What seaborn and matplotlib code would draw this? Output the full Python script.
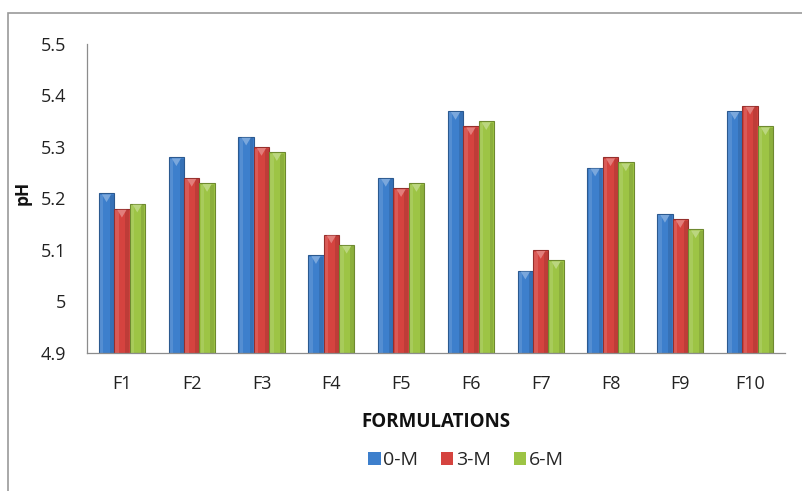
import numpy as np
import pandas as pd
import matplotlib
matplotlib.use("Agg")
import matplotlib.pyplot as plt
from matplotlib.patches import Rectangle, Polygon
from matplotlib.colors import to_rgb
import seaborn as sns

formulations = ["F1", "F2", "F3", "F4", "F5", "F6", "F7", "F8", "F9", "F10"]
ph_0m = [5.21, 5.28, 5.32, 5.09, 5.24, 5.37, 5.06, 5.26, 5.17, 5.37]
ph_3m = [5.18, 5.24, 5.30, 5.13, 5.22, 5.34, 5.10, 5.28, 5.16, 5.38]
ph_6m = [5.19, 5.23, 5.29, 5.11, 5.23, 5.35, 5.08, 5.27, 5.14, 5.34]
periods = ["0-M", "3-M", "6-M"]
y_ticks = [4.9, 5.0, 5.1, 5.2, 5.3, 5.4, 5.5]
y_tick_labels = ["4.9", "5", "5.1", "5.2", "5.3", "5.4", "5.5"]

colors = ["#3d7fcc", "#d5433f", "#9dc445"]

df = pd.DataFrame({
    "Formulation": formulations * 3,
    "Period": [p for p in periods for _ in formulations],
    "pH": ph_0m + ph_3m + ph_6m,
})

sns.set_theme(style="white")
plt.rcParams["font.family"] = ["Open Sans", "DejaVu Sans"]

W, H = 803, 491
fig = plt.figure(figsize=(W / 100, H / 100), dpi=100)
ax = fig.add_axes([87 / W, 1 - 353 / H, (785 - 87) / W, (353 - 44) / H])

ax.set_ylim(4.9, 5.5)
sns.barplot(data=df, x="Formulation", y="pH", hue="Period", palette=colors,
            width=0.66, gap=0, ax=ax, legend=True, edgecolor="none",
            saturation=1)

# bevelled look: darker edges, lighter left strip and a light notch at the top
ymin = 4.9
for container, c in zip(ax.containers, colors):
    rgb = np.array(to_rgb(c))
    dark = rgb * 0.7
    light = np.clip(rgb + (1 - rgb) * 0.35, 0, 1)
    for bar in container:
        x0 = bar.get_x()
        w = bar.get_width()
        top = bar.get_y() + bar.get_height()
        bar.set_y(ymin)
        bar.set_height(top - ymin)
        bar.set_edgecolor(dark)
        bar.set_linewidth(0.8)
        ax.add_patch(Rectangle((x0 + w * 0.08, ymin), w * 0.22, top - ymin - 0.003,
                               facecolor=light, edgecolor="none", alpha=0.35, zorder=bar.get_zorder() + 0.1))
        ax.add_patch(Rectangle((x0 + w * 0.72, ymin), w * 0.25, top - ymin - 0.003,
                               facecolor=dark, edgecolor="none", alpha=0.35, zorder=bar.get_zorder() + 0.1))
        ax.add_patch(Polygon([(x0 + w * 0.2, top - 0.002), (x0 + w * 0.8, top - 0.002),
                              (x0 + w * 0.5, top - 0.017)], closed=True,
                             facecolor=light, edgecolor="none", alpha=0.9,
                             zorder=bar.get_zorder() + 0.2))

ax.set_xlim(-0.5, len(formulations) - 0.5)
ax.set_yticks(y_ticks)
ax.set_yticklabels(y_tick_labels)
ax.set_xticks(range(len(formulations)))
ax.set_xticklabels(formulations)
ax.tick_params(axis="both", labelsize=13, colors="#222222", length=0)
ax.tick_params(axis="x", pad=16)
ax.tick_params(axis="y", pad=10)
ax.set_xticks(np.arange(-0.5, len(formulations), 1), minor=True)
ax.tick_params(axis="x", which="minor", length=6, width=0.8, color="#8c8c8c", direction="out")
ax.tick_params(axis="y", which="major", length=5, width=0.8, color="#8c8c8c", direction="out")
ax.tick_params(axis="y", labelcolor="#222222")

for side in ["top", "right"]:
    ax.spines[side].set_visible(False)
for side in ["left", "bottom"]:
    ax.spines[side].set_color("#8c8c8c")
    ax.spines[side].set_linewidth(0.9)

ax.set_xlabel("FORMULATIONS", fontsize=13.5, fontweight="bold", color="#111111")
ax.xaxis.set_label_coords(0.5, -(427 - 353) / (353 - 44))
ax.xaxis.label.set_va("baseline")
ax.set_ylabel("pH", fontsize=12.5, fontweight="bold", color="#111111")
ax.yaxis.set_label_coords(-55 / (785 - 87), (353 - 193) / (353 - 44))

handles, labels = ax.get_legend_handles_labels()
ax.legend(handles, labels, loc="center", bbox_to_anchor=(466 / W, 1 - 460 / H),
          bbox_transform=fig.transFigure, ncol=3, frameon=False, fontsize=14,
          handlelength=0.65, handleheight=0.65, handletextpad=0.15, columnspacing=1.15)
for h in ax.get_legend().legend_handles:
    h.set_edgecolor("none")

# chart area frame
fig.patches.append(Rectangle((8 / W, -0.1), 1.2, 1 - 13 / H + 0.1, transform=fig.transFigure,
                             fill=False, edgecolor="#9a9a9a", linewidth=1.2))

fig.savefig("out.png", dpi=100)
